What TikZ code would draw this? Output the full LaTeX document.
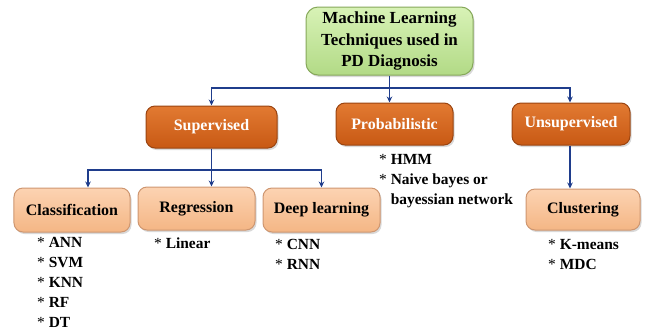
\documentclass[tikz,border=0pt]{standalone}
\usepackage{fontspec}
\setmainfont{Liberation Serif}
\usetikzlibrary{arrows.meta,shadows,calc}

\definecolor{linkblue}{HTML}{1F3D8C}
\definecolor{greentop}{HTML}{D8F2B6}
\definecolor{greenbot}{HTML}{B2DA86}
\definecolor{greenrim}{HTML}{86A85A}
\definecolor{orangetop}{HTML}{E27A32}
\definecolor{orangebot}{HTML}{C85914}
\definecolor{orangerim}{HTML}{9A4410}
\definecolor{peachtop}{HTML}{FCD3B2}
\definecolor{peachbot}{HTML}{F4B685}
\definecolor{peachrim}{HTML}{CE9670}

\tikzset{
  box/.style={rounded corners=9bp, line width=1bp, inner sep=0pt,
    font=\bfseries\fontsize{16}{20}\selectfont, align=center,
    drop shadow={shadow xshift=1.5bp, shadow yshift=-2bp, opacity=0.3}},
  rootbox/.style={box, rounded corners=12bp, draw=greenrim,
    top color=greentop, bottom color=greenbot,
    font=\bfseries\fontsize{17}{21.5}\selectfont},
  groupbox/.style={box, draw=orangerim, top color=orangetop,
    bottom color=orangebot, text=white},
  methodbox/.style={box, draw=peachrim, top color=peachtop,
    bottom color=peachbot},
  % lists are placed by the baseline of their last line
  itemlist/.style={anchor=base west, align=left, inner sep=0pt,
    font=\bfseries\fontsize{15.5}{20}\selectfont},
  link/.style={draw=linkblue, line width=1.1bp},
  linkarrow/.style={link, -{Stealth[length=6bp,width=5.5bp]}}
}
\newcommand{\bul}{\textmd{*}~}

\begin{document}
\begin{tikzpicture}[x=1bp,y=-1bp]
\useasboundingbox (0,0) rectangle (648,335);

% boxes
\node[rootbox, minimum width=167bp, minimum height=68bp] (root) at (389.5,41)
  {Machine Learning\\Techniques used in\\PD Diagnosis};
\node[groupbox, minimum width=131bp, minimum height=42bp] (sup) at (211.5,127) {Supervised};
\node[groupbox, minimum width=117bp, minimum height=42bp] (prob) at (394.5,124) {Probabilistic};
\node[groupbox, minimum width=118bp, minimum height=42bp] (unsup) at (571,124) {Unsupervised};
\node[methodbox, minimum width=116bp, minimum height=44bp] (cls) at (72,210) {Classification};
\node[methodbox, minimum width=117bp, minimum height=43bp] (reg) at (196.5,208.5) {Regression};
\node[methodbox, minimum width=117bp, minimum height=44bp] (deep) at (321.5,210) {Deep learning};
\node[methodbox, minimum width=114bp, minimum height=41bp] (clu) at (583,209.5) {Clustering};

% connectors: first level
\coordinate (j1) at (389.5,88);
\coordinate (u1) at ($(unsup.north)+(-1,0)$);
\coordinate (u2) at ($(unsup.south)+(-1,0)$);
\draw[link] (root.south) -- (j1);
\draw[linkarrow] (j1) -| (sup.north);
\draw[linkarrow] (j1) -- (j1 |- prob.north);
\draw[linkarrow] (j1) -| (u1);

% connectors: second level
\coordinate (j2) at (211.5,170);
\coordinate (c1) at ($(cls.north)+(16,0)$);
\draw[link] (sup.south) -- (j2);
\draw[linkarrow] (j2) -| (c1);
\draw[linkarrow] (j2) -- (j2 |- reg.north);
\draw[linkarrow] (j2) -| (deep.north);
\draw[linkarrow] (u2) -- (u2 |- clu.north);

% item lists
\node[itemlist] (clsitems) at (37,327)
  {\bul ANN\\\bul SVM\\\bul KNN\\\bul RF\\\bul DT};
\node[itemlist] (regitems) at (154,248) {\bul Linear};
\node[itemlist] (deepitems) at (275,269) {\bul CNN\\\bul RNN};
\node[itemlist] (probitems) at (379,204)
  {\bul HMM\\\bul Naive bayes or\\\hphantom{\bul}bayessian network};
\node[itemlist] (cluitems) at (548,269) {\bul K-means\\\bul MDC};
\end{tikzpicture}
\end{document}
